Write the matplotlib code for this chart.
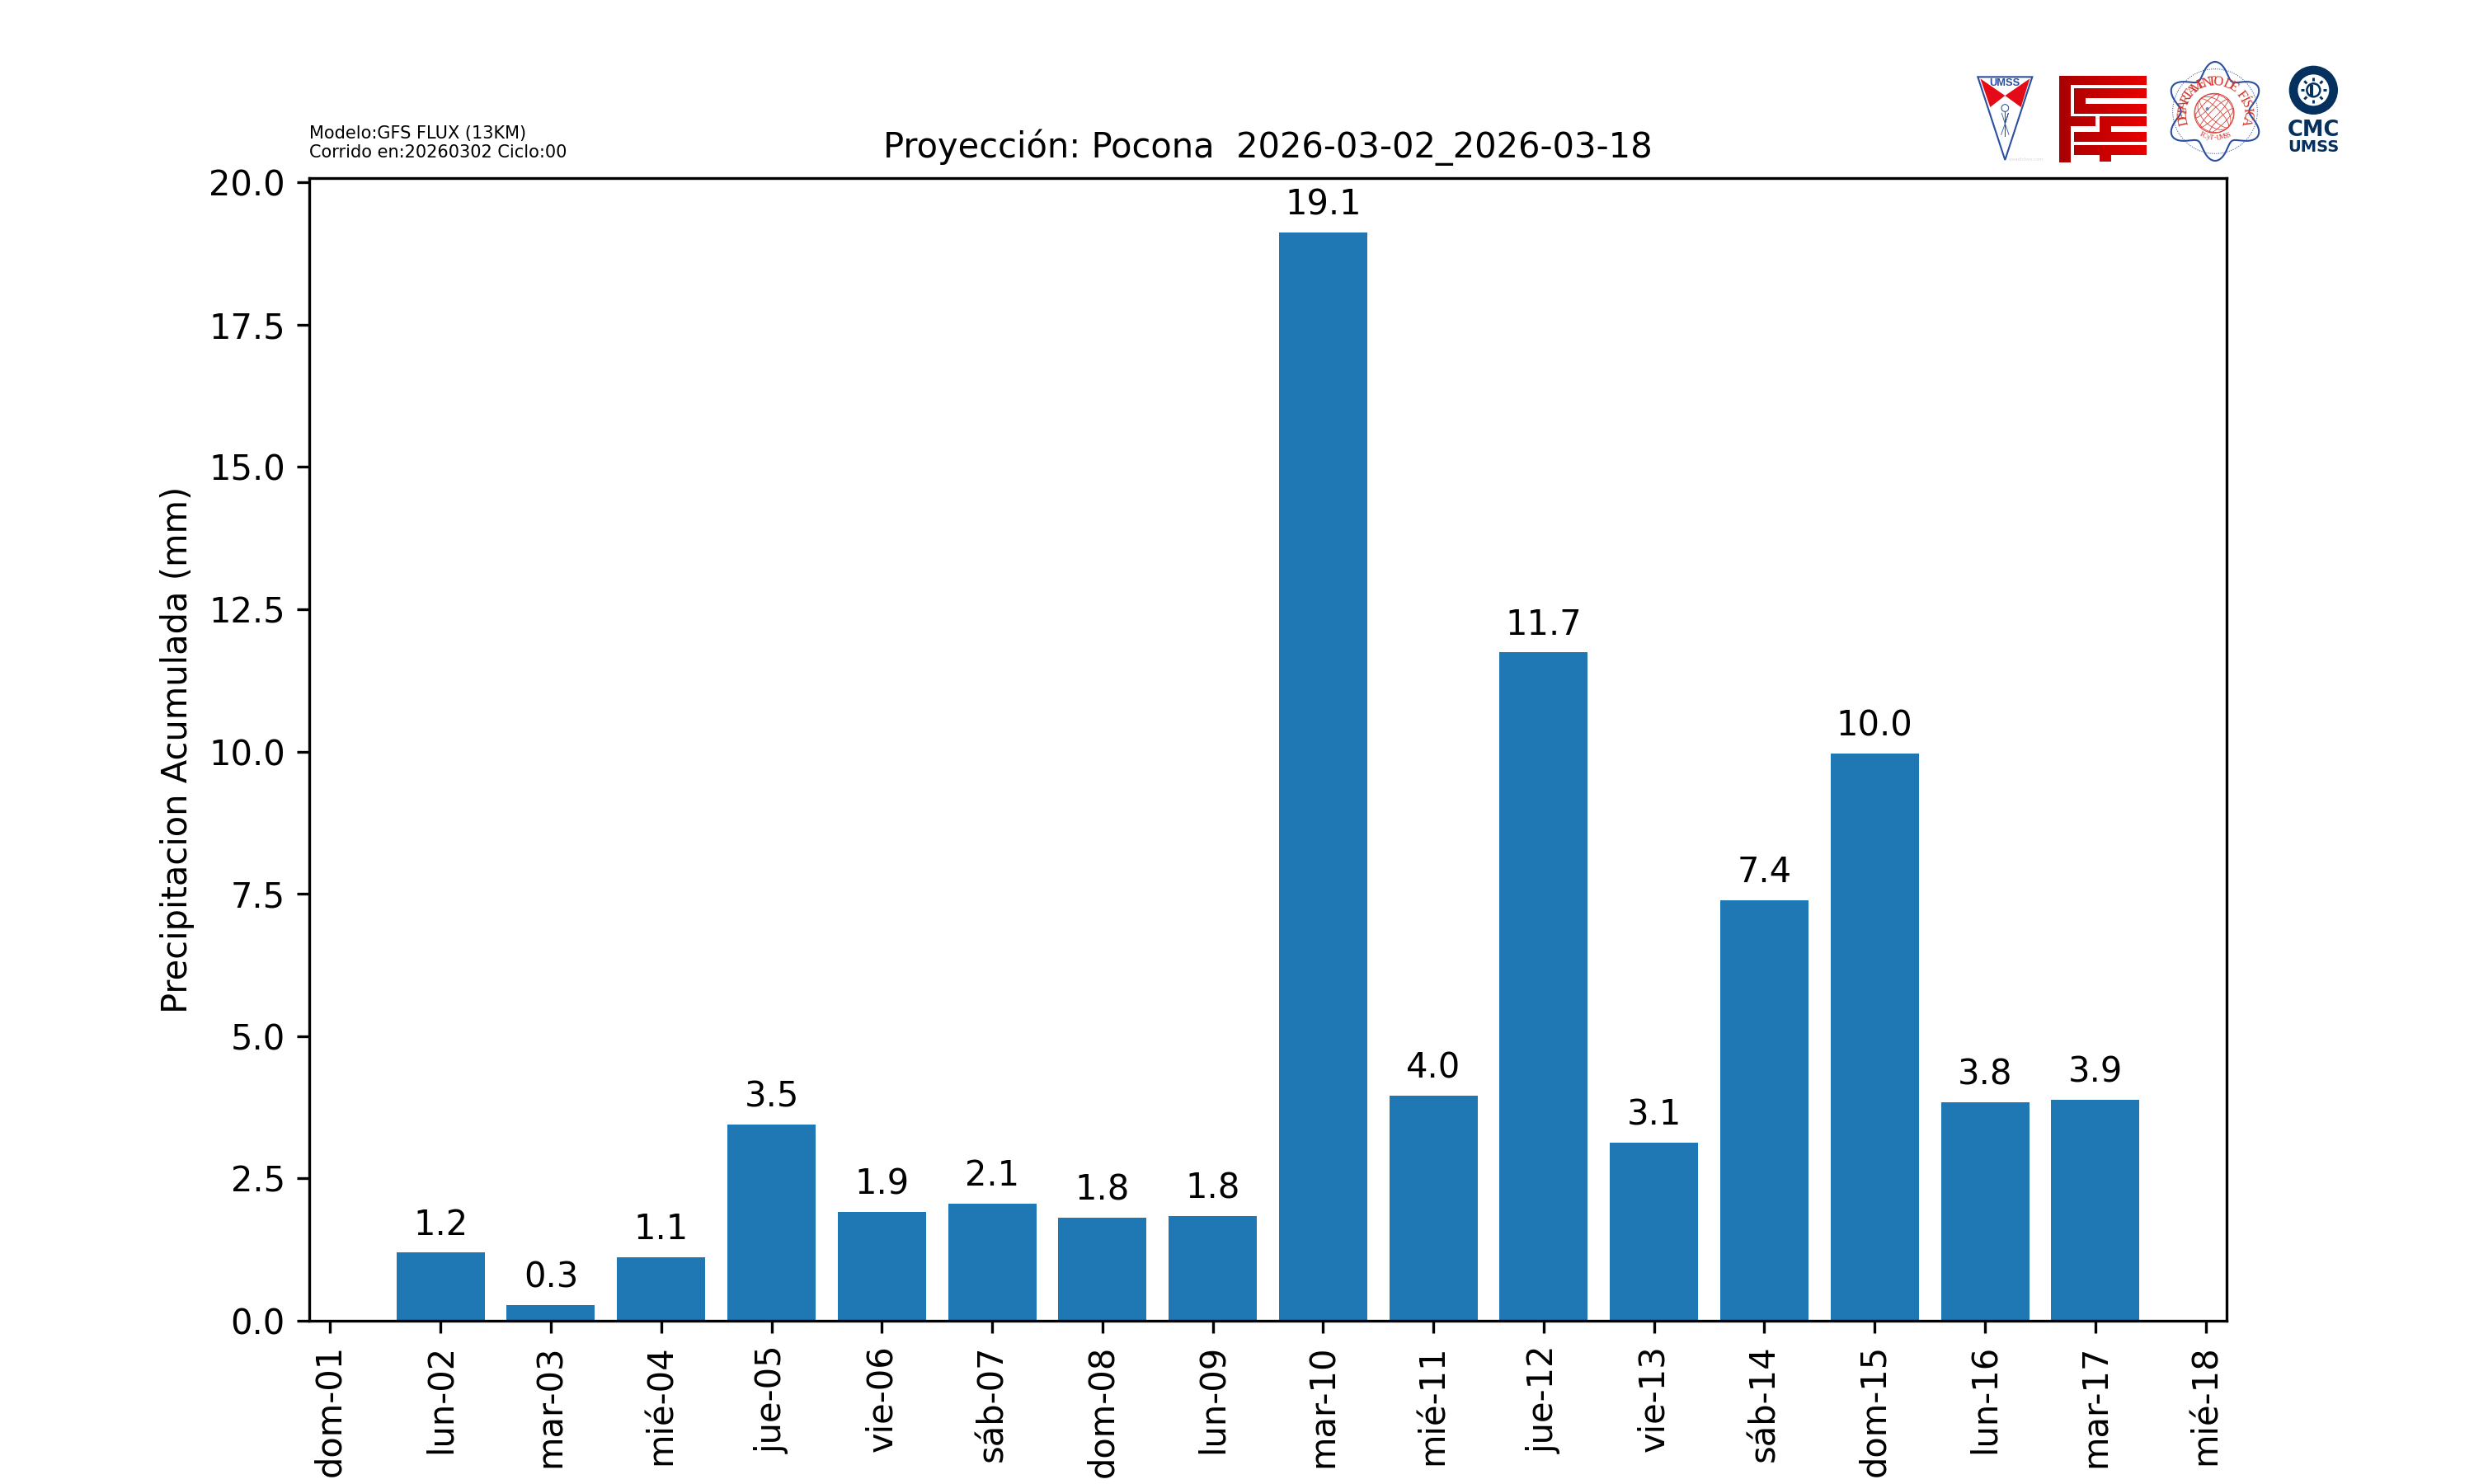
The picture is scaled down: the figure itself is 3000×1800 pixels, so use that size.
""" barras de precipitacion acumulada diaria para Pocona """
import matplotlib
matplotlib.use("Agg")
import matplotlib.pyplot as plt
from matplotlib.patches import Polygon, Circle, Ellipse, Rectangle
import numpy as np
import pandas as pd

fechas = ["2026-03-02", "2026-03-03", "2026-03-04", "2026-03-05", "2026-03-06", "2026-03-07",
          "2026-03-08", "2026-03-09", "2026-03-10", "2026-03-11", "2026-03-12", "2026-03-13",
          "2026-03-14", "2026-03-15", "2026-03-16", "2026-03-17"]
precipitacion = [1.2, 0.27, 1.12, 3.45, 1.91, 2.06, 1.81, 1.84, 19.12, 3.96, 11.74, 3.13, 7.39, 9.97, 3.84, 3.88]
tick_fechas = pd.date_range("2026-03-01", "2026-03-18")
tick_labels = ["dom-01", "lun-02", "mar-03", "mié-04", "jue-05", "vie-06", "sáb-07", "dom-08", "lun-09",
               "mar-10", "mié-11", "jue-12", "vie-13", "sáb-14", "dom-15", "lun-16", "mar-17", "mié-18"]

fig, ax = plt.subplots(figsize=(10, 6))
barras = ax.bar(pd.to_datetime(fechas), precipitacion, width=0.8)
for b, v in zip(barras, precipitacion):
    ax.annotate(f"{v:.1f}", (b.get_x() + b.get_width() / 2, v), xytext=(0, 3),
                textcoords="offset points", ha="center", va="bottom")
ax.set_xticks(tick_fechas)
ax.set_xticklabels(tick_labels, rotation=90)
ax.set_ylabel("Precipitacion Acumulada (mm)")
ax.set_title("Proyección: Pocona  2026-03-02_2026-03-18", fontsize=10)
ax.text(0, 1.015, "Modelo:GFS FLUX (13KM)\nCorrido en:20260302 Ciclo:00", transform=ax.transAxes,
        fontsize=5, ha="left", va="bottom")

# logos, dibujados en un eje transparente encima de la esquina superior derecha
logo = fig.add_axes([2360 / 3000, 1 - 230 / 1800, 520 / 3000, 180 / 1800])
logo.patch.set_alpha(0)
logo.axis("off")
azul = "#2a4f9e"
rojo = "#e30b17"
marino = "#06305e"

# escudo UMSS
logo.add_patch(Polygon([(115, 130), (313, 130), (214, 432)], closed=True, fc="white", ec=azul, lw=0.5))
logo.add_patch(Polygon([(124, 136), (214, 198), (160, 240)], closed=True, fc=rojo, ec="none"))
logo.add_patch(Polygon([(304, 136), (214, 198), (272, 240)], closed=True, fc=rojo, ec="none"))
logo.text(214, 153, "UMSS", color=azul, fontsize=3.1, fontweight="bold", ha="center", va="center",
          family="Liberation Sans")
logo.add_patch(Circle((214, 243), 13, fc="none", ec=azul, lw=0.25))
logo.plot([214, 214], [256, 345], color=azul, lw=0.25)
logo.plot([202, 214, 226, 214, 200], [262, 300, 262, 300, 340], color=azul, lw=0.2)
logo.plot([214, 228], [300, 340], color=azul, lw=0.2)
logo.text(290, 430, "creadictivo.com", color="#d8d8d8", fontsize=1.3, ha="center", va="center")

# logo FCyT, rectangulos con degradado
rects = [(410, 125, 728, 158), (410, 158, 452, 440), (452, 275, 542, 310),
         (464, 172, 728, 207), (464, 207, 505, 228), (464, 228, 728, 263),
         (558, 275, 728, 310), (558, 310, 600, 332), (464, 332, 728, 367),
         (464, 380, 728, 415), (558, 415, 600, 438)]
degradado = matplotlib.colors.LinearSegmentedColormap.from_list("fcyt", ["#a80000", "#c80000", "#e80000"])
for x0, y0, x1, y1 in rects:
    f0, f1 = (x0 - 410) / 318, (x1 - 410) / 318
    logo.imshow(np.linspace(f0, f1, 32).reshape(1, -1), cmap=degradado, vmin=0, vmax=1,
                extent=(x0, x1, y1, y0), aspect="auto", interpolation="bilinear")

# sello departamento de fisica
cx, cy = 978, 255
t = np.linspace(0, 2 * np.pi, 500)
r = 152 + 28 * np.cos(6 * t)
logo.plot(cx + r * np.sin(t), cy - r * np.cos(t), color=azul, lw=0.5)
logo.add_patch(Circle((cx, cy), 154, fc="none", ec=azul, lw=0.25, ls=(0, (1, 1.5))))
# globo: meridianos y paralelos
gx, gy, gr = 975, 262, 72
logo.add_patch(Circle((gx, gy), gr, fc="none", ec="#d9433b", lw=0.25))
for alto in [40, 90, 135]:
    logo.add_patch(Ellipse((gx, gy), 2 * gr, alto, angle=45, fc="none", ec="#d9433b", lw=0.2))
for d in [-38, 0, 38]:
    px, py = gx + d * 0.707, gy + d * 0.707
    logo.add_patch(Ellipse((px, py), 24, 2 * np.sqrt(gr ** 2 - d ** 2), angle=45, fc="none",
                           ec="#d9433b", lw=0.2))
logo.add_patch(Circle((950, 246), 6, fc="#5b7fc0", ec="none"))
letrero = "DEPARTAMENTO DE FÍSICA"
for i, c in enumerate(letrero):
    a = np.deg2rad(-103 + i * 206 / (len(letrero) - 1))
    logo.text(cx + 116 * np.sin(a), cy + 8 - 116 * np.cos(a), c, color="#d0342c", fontsize=4,
              family="Liberation Serif", ha="center", va="center", rotation=-np.rad2deg(a))
pie = "FCyT-UMSS"
for i, c in enumerate(pie):
    a = np.deg2rad(-27 + i * 54 / (len(pie) - 1))
    logo.text(cx + 110 * np.sin(a), cy - 12 + 110 * np.cos(a), c, color="#d0342c", fontsize=2,
              family="Liberation Serif", ha="center", va="center", rotation=np.rad2deg(a))

# logo CMC
sx, sy = 1336, 178
logo.add_patch(Circle((sx, sy), 89, fc=marino, ec="none"))
logo.add_patch(Circle((sx, sy), 57, fc="white", ec="none"))
logo.add_patch(Circle((sx, sy), 24, fc="white", ec=marino, lw=0.6))
logo.add_patch(Rectangle((sx - 14, sy - 20), 14, 40, fc=marino, ec="none"))
for a in np.deg2rad(np.arange(0, 360, 45)):
    logo.plot([sx + 34 * np.sin(a), sx + 47 * np.sin(a)], [sy + 34 * np.cos(a), sy + 47 * np.cos(a)],
              color=marino, lw=0.7, solid_capstyle="butt")
logo.text(sx, 323, "CMC", color=marino, fontsize=6.2, fontweight="bold", ha="center", va="center",
          family="DejaVu Sans")
logo.text(sx, 386, "UMSS", color=marino, fontsize=4.7, fontweight="bold", ha="center", va="center",
          family="DejaVu Sans")
logo.set_xlim(0, 1560)
logo.set_ylim(540, 0)

fig.savefig("out.png", dpi=300)
